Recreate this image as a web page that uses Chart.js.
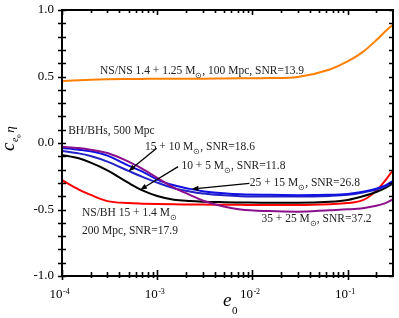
<!DOCTYPE html>
<html>
<head>
<meta charset="UTF-8">
<title>c_e0 eta vs e0</title>
<script src="https://cdn.jsdelivr.net/npm/chart.js"></script>
<style>
  html, body { margin: 0; padding: 0; background: #fff; }
</style>
</head>
<body>
<canvas id="chart" width="399" height="318"></canvas>
<script>
// eccentricity samples (shared by every curve)
const e0 = [1e-4, 1.5e-4, 2e-4, 3e-4, 5e-4, 7e-4, 1e-3, 1.5e-3, 2.2e-3, 3e-3,
            5e-3, 7.5e-3, 0.015, 0.03, 0.065, 0.1, 0.145, 0.2, 0.25, 0.3];

// c_e0 * eta
const nsns_14_125 = [0.465, 0.472, 0.476, 0.479, 0.481, 0.482, 0.483, 0.483, 0.484, 0.484,
                     0.485, 0.486, 0.488, 0.497, 0.553, 0.613, 0.685, 0.772, 0.84, 0.89];
const bhbh_10_5   = [-0.09, -0.115, -0.147, -0.205, -0.30, -0.356, -0.398, -0.426, -0.436, -0.441,
                     -0.445, -0.447, -0.45, -0.45, -0.442, -0.428, -0.40, -0.368, -0.338, -0.303];
const bhbh_15_10  = [-0.06, -0.078, -0.098, -0.14, -0.21, -0.255, -0.298, -0.34, -0.365, -0.38,
                     -0.393, -0.40, -0.403, -0.403, -0.398, -0.39, -0.372, -0.35, -0.325, -0.295];
const bhbh_25_15  = [-0.037, -0.05, -0.062, -0.095, -0.17, -0.215, -0.275, -0.318, -0.345, -0.362,
                     -0.378, -0.386, -0.39, -0.392, -0.39, -0.383, -0.366, -0.343, -0.318, -0.285];
const bhbh_35_25  = [-0.028, -0.038, -0.05, -0.075, -0.14, -0.195, -0.262, -0.335, -0.39, -0.432,
                     -0.478, -0.50, -0.512, -0.516, -0.505, -0.499, -0.49, -0.472, -0.452, -0.424];
const nsbh_15_14  = [-0.28, -0.35, -0.39, -0.437, -0.452, -0.456, -0.459, -0.461, -0.462, -0.463,
                     -0.464, -0.465, -0.466, -0.466, -0.46, -0.452, -0.43, -0.36, -0.28, -0.203];

// axis ticks
const xDecades = [1e-4, 1e-3, 1e-2, 1e-1];
const xTickExp = ['-4', '-3', '-2', '-1'];
const yTickLabels = ['-1.0', '-0.5', '0.0', '0.5', '1.0'];

// annotations (data coordinates: left end of text, baseline)
const notes = [
  { x: 2.51e-4, y: 0.519,  parts: [['NS/NS 1.4 + 1.25 M'], ['\u2299', 'sub'], [', 100 Mpc, SNR=13.9']] },
  { x: 1.16e-4, y: 0.068,  parts: [['BH/BHs, 500 Mpc']] },
  { x: 7.43e-4, y: -0.056, parts: [['15 + 10 M'], ['\u2299', 'sub'], [', SNR=18.6']] },
  { x: 1.80e-3, y: -0.199, parts: [['10 + 5 M'], ['\u2299', 'sub'], [', SNR=11.8']] },
  { x: 9.4e-3,  y: -0.323, parts: [['25 + 15 M'], ['\u2299', 'sub'], [', SNR=26.8']] },
  { x: 1.245e-2, y: -0.594, parts: [['35 + 25 M'], ['\u2299', 'sub'], [', SNR=37.2']] },
  { x: 1.62e-4, y: -0.549, parts: [['NS/BH 15 + 1.4 M'], ['\u2299', 'sub']] },
  { x: 1.62e-4, y: -0.684, parts: [['200 Mpc, SNR=17.9']] }
];
// arrows: tail -> tip
const arrows = [
  [9.86e-4, -0.04, 5.0e-4, -0.212],
  [1.66e-3, -0.178, 6.6e-4, -0.353],
  [9.3e-3, -0.303, 2.3e-3, -0.346]
];

const FONT = '"Liberation Serif", "Times New Roman", serif';

function pts(ys) {
  return e0.map((x, i) => ({ x: x, y: ys[i] }));
}

function drawParts(ctx, x, y, parts, size) {
  let cx = x;
  parts.forEach(p => {
    const kind = p[1];
    const s = kind ? size * 0.72 : size;
    ctx.font = s + 'px ' + FONT;
    const dy = kind === 'sub' ? size * 0.32 : 0;
    ctx.fillText(p[0], cx, y + dy);
    cx += ctx.measureText(p[0]).width;
  });
}

const decor = {
  id: 'decor',
  afterDraw(chart) {
    const ctx = chart.ctx;
    const a = chart.chartArea;
    const xs = chart.scales.x, ys = chart.scales.y;
    ctx.save();
    ctx.strokeStyle = '#000';
    ctx.fillStyle = '#000';

    // frame
    ctx.lineWidth = 2;
    ctx.strokeRect(a.left, a.top, a.right - a.left, a.bottom - a.top);

    // y ticks every 0.1
    ctx.lineWidth = 1.6;
    ys.ticks.forEach(t => {
      const py = Math.round(ys.getPixelForValue(t.value)) + 0.5;
      ctx.beginPath();
      ctx.moveTo(a.left - 4, py); ctx.lineTo(a.left + 4, py);
      ctx.moveTo(a.right - 4, py); ctx.lineTo(a.right, py);
      ctx.stroke();
    });

    // x ticks: decades and 2..9 minors
    xDecades.forEach(d => {
      for (let m = 1; m <= 9; m++) {
        const v = d * m;
        if (v > xs.max) break;
        const px = Math.round(xs.getPixelForValue(v)) + 0.5;
        const major = m === 1;
        ctx.beginPath();
        ctx.moveTo(px, a.bottom - (major ? 6 : 4)); ctx.lineTo(px, a.bottom + (major ? 4 : 2));
        ctx.moveTo(px, a.top); ctx.lineTo(px, a.top + (major ? 5 : 3));
        ctx.stroke();
      }
    });

    // x tick labels 10^n
    ctx.textBaseline = 'alphabetic';
    xDecades.forEach((d, i) => {
      const px = xs.getPixelForValue(d);
      ctx.font = '13px ' + FONT;
      ctx.textAlign = 'right';
      ctx.fillText('10', px + 0.5, 298);
      ctx.font = '8px ' + FONT;
      ctx.textAlign = 'left';
      ctx.fillText(xTickExp[i], px + 1, 293.5);
    });

    // axis titles
    ctx.textAlign = 'left';
    ctx.font = 'italic 19px ' + FONT;
    ctx.fillText('e', 223, 306);
    ctx.font = '11px ' + FONT;
    ctx.fillText('0', 232, 314);

    ctx.save();
    ctx.translate(14, 151);
    ctx.rotate(-Math.PI / 2);
    ctx.font = 'italic 19px ' + FONT;
    ctx.fillText('c', 0, 0);
    let w = ctx.measureText('c').width;
    ctx.font = 'italic 10px ' + FONT;
    ctx.fillText('e', w + 0.5, 4);
    w += ctx.measureText('e').width + 0.5;
    ctx.font = '7px ' + FONT;
    ctx.fillText('0', w, 7);
    w += ctx.measureText('0').width + 1.5;
    ctx.font = 'italic 13px ' + FONT;
    ctx.fillText('\u03b7', w, 0);
    ctx.restore();

    // annotations
    ctx.fillStyle = '#222';
    notes.forEach(n => {
      drawParts(ctx, xs.getPixelForValue(n.x), ys.getPixelForValue(n.y), n.parts, 11.5);
    });

    // arrows
    ctx.strokeStyle = '#000';
    ctx.fillStyle = '#000';
    ctx.lineWidth = 1.3;
    arrows.forEach(r => {
      const x1 = xs.getPixelForValue(r[0]), y1 = ys.getPixelForValue(r[1]);
      const x2 = xs.getPixelForValue(r[2]), y2 = ys.getPixelForValue(r[3]);
      const ang = Math.atan2(y2 - y1, x2 - x1);
      const L = 7, W = 2.6;
      const bx = x2 - L * Math.cos(ang), by = y2 - L * Math.sin(ang);
      ctx.beginPath();
      ctx.moveTo(x1, y1); ctx.lineTo(bx, by);
      ctx.stroke();
      ctx.beginPath();
      ctx.moveTo(x2, y2);
      ctx.lineTo(bx + W * Math.sin(ang), by - W * Math.cos(ang));
      ctx.lineTo(bx - W * Math.sin(ang), by + W * Math.cos(ang));
      ctx.closePath();
      ctx.fill();
    });
    ctx.restore();
  }
};

function line(label, ys, color) {
  return {
    label: label,
    data: pts(ys),
    borderColor: color,
    borderWidth: 2,
    pointRadius: 0,
    fill: false,
    cubicInterpolationMode: 'monotone'
  };
}

new Chart(document.getElementById('chart'), {
  type: 'line',
  data: {
    datasets: [
      line('NS/NS 1.4 + 1.25', nsns_14_125, '#ff7f00'),
      line('35 + 25', bhbh_35_25, '#8b108b'),
      line('25 + 15', bhbh_25_15, '#1010e0'),
      line('15 + 10', bhbh_15_10, '#2222c8'),
      line('10 + 5', bhbh_10_5, '#000000'),
      line('NS/BH 15 + 1.4', nsbh_15_14, '#ff0000')
    ]
  },
  options: {
    responsive: false,
    animation: false,
    devicePixelRatio: 1,
    layout: { padding: { left: 0, right: 6, top: 10, bottom: 0 } },
    plugins: { legend: { display: false }, tooltip: { enabled: false } },
    scales: {
      x: {
        type: 'logarithmic',
        min: 1e-4,
        max: 0.3,
        grid: { display: false, drawTicks: false },
        border: { display: false },
        ticks: { display: false },
        afterFit(s) { s.height = 42; }
      },
      y: {
        min: -1,
        max: 1,
        grid: { display: false, drawTicks: false },
        border: { display: false },
        ticks: {
          stepSize: 0.1,
          autoSkip: false,
          padding: 8,
          color: '#000',
          font: { family: FONT, size: 13 },
          callback(v) {
            const r = Math.round(v * 10);
            return r % 5 === 0 ? yTickLabels[(r + 10) / 5] : '';
          }
        },
        afterFit(s) { s.width = 62; s.paddingTop = 0; s.paddingBottom = 0; }
      }
    }
  },
  plugins: [decor]
});
</script>
</body>
</html>
